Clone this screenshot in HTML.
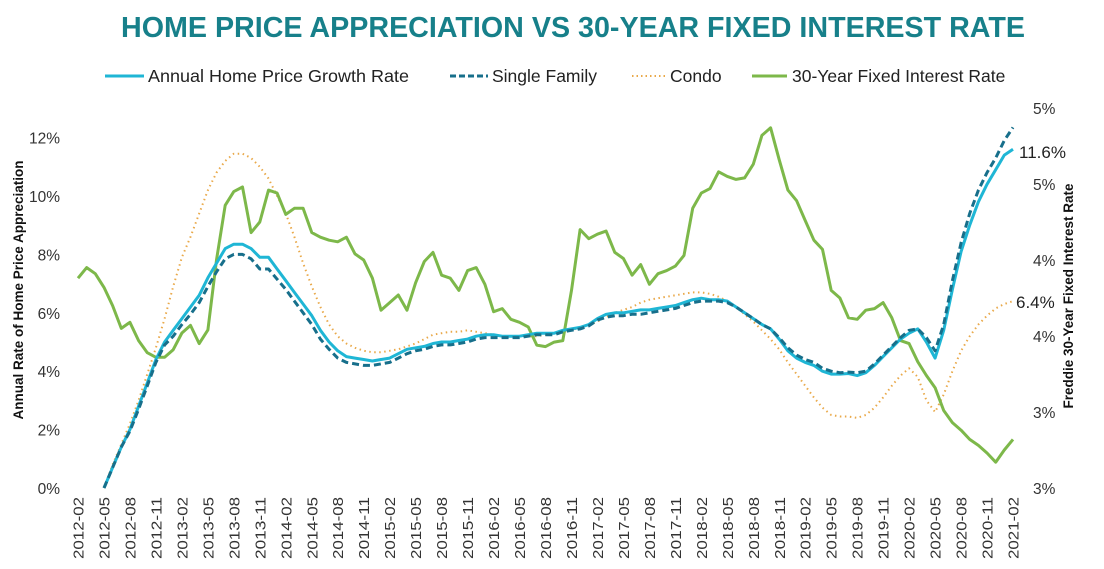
<!DOCTYPE html>
<html><head><meta charset="utf-8"><style>
html,body{margin:0;padding:0;background:#fff;width:1104px;height:569px;overflow:hidden}
svg{display:block;font-family:"Liberation Sans",sans-serif}
</style></head><body>
<svg id="chart" width="1104" height="569" viewBox="0 0 1104 569">
<text x="573" y="37" text-anchor="middle" font-size="29" font-weight="bold" fill="#17808a" textLength="904" lengthAdjust="spacingAndGlyphs">HOME PRICE APPRECIATION VS 30-YEAR FIXED INTEREST RATE</text>
<g font-size="17.5" fill="#222">
 <g><line x1="105" y1="76" x2="144" y2="76" stroke="#1fb6d5" stroke-width="3"/><text x="148" y="82" textLength="261" lengthAdjust="spacingAndGlyphs">Annual Home Price Growth Rate</text></g>
 <g><line x1="450" y1="76" x2="488" y2="76" stroke="#176f8b" stroke-width="3" stroke-dasharray="6,3"/><text x="492" y="82">Single Family</text></g>
 <g><line x1="632" y1="76" x2="665" y2="76" stroke="#e9a94a" stroke-width="2" stroke-dasharray="1.5,3"/><text x="670" y="82">Condo</text></g>
 <g><line x1="752" y1="76" x2="787" y2="76" stroke="#7db84a" stroke-width="3"/><text x="792" y="82">30-Year Fixed Interest Rate</text></g>
</g>
<text transform="translate(23,290) rotate(-90)" text-anchor="middle" font-size="13.5" font-weight="bold" fill="#111">Annual Rate of Home Price Appreciation</text>
<text transform="translate(1073,296) rotate(-90)" text-anchor="middle" font-size="13.5" font-weight="bold" fill="#111">Freddie 30-Year Fixed Interest Rate</text>
<g id="lt"></g><g id="rt"></g><g id="xt"></g><g id="series"></g>
<text x="1019" y="158" font-size="17" fill="#222">11.6%</text>
<text x="1016" y="308" font-size="17" fill="#222">6.4%</text>
</svg>
<script>
const months = [];
for (let i = 0; i < 109; i++) { const m = 1 + i; const y = 2012 + Math.floor(m / 12); const mm = (m % 12) + 1; months.push(y + '-' + String(mm).padStart(2, '0')); }
const leftTicks = [0, 2, 4, 6, 8, 10, 12];
const rightTicks = [2.5, 3.0, 3.5, 4.0, 4.5, 5.0];
const rightTickLabels = ['3%', '3%', '4%', '4%', '5%', '5%'];
const annualGrowth = [null,null,null,
0,0.7,1.4,2.0,2.8,3.6,4.4,5.0,5.4,5.8,6.2,6.6,7.2,7.7,8.2,8.35,8.35,8.2,7.9,7.9,7.5,7.1,6.7,6.3,5.9,5.4,5.0,4.7,4.5,4.45,4.4,4.35,4.4,4.45,4.6,4.75,4.8,4.85,4.95,5.0,5.0,5.05,5.1,5.2,5.25,5.25,5.2,5.2,5.2,5.25,5.3,5.3,5.3,5.4,5.45,5.5,5.6,5.8,5.95,6.0,6.0,6.05,6.1,6.1,6.15,6.2,6.25,6.35,6.45,6.5,6.45,6.45,6.4,6.2,6.0,5.8,5.6,5.45,5.1,4.7,4.45,4.3,4.2,4.0,3.9,3.9,3.92,3.85,3.95,4.2,4.5,4.8,5.1,5.3,5.45,5.0,4.45,5.4,6.8,8.1,9.0,9.8,10.4,10.9,11.4,11.6];
const singleFamily = [null,null,null,
0,0.7,1.4,1.95,2.7,3.5,4.3,4.9,5.2,5.6,5.95,6.35,6.9,7.4,7.85,8.0,8.0,7.85,7.5,7.5,7.15,6.8,6.4,6.0,5.6,5.1,4.75,4.45,4.3,4.25,4.2,4.2,4.25,4.3,4.45,4.6,4.7,4.75,4.85,4.9,4.9,4.95,5.0,5.1,5.15,5.15,5.15,5.15,5.15,5.2,5.25,5.25,5.25,5.35,5.4,5.45,5.55,5.75,5.85,5.9,5.9,5.95,5.95,6.0,6.05,6.1,6.15,6.25,6.35,6.4,6.4,6.4,6.35,6.2,6.0,5.8,5.6,5.45,5.15,4.8,4.55,4.4,4.3,4.1,4.0,3.95,3.97,3.95,4.0,4.25,4.55,4.85,5.15,5.4,5.45,5.15,4.7,5.6,7.1,8.4,9.4,10.2,10.8,11.3,11.9,12.35];
const condo = [null,null,null,
0,0.8,1.5,2.2,3.0,3.9,4.8,5.8,6.9,7.9,8.6,9.4,10.2,10.8,11.2,11.45,11.45,11.3,11.0,10.6,10.0,9.4,8.6,7.7,6.9,6.2,5.6,5.2,4.95,4.8,4.7,4.65,4.65,4.7,4.75,4.85,4.95,5.1,5.25,5.3,5.35,5.35,5.4,5.35,5.3,5.25,5.2,5.2,5.2,5.2,5.2,5.25,5.3,5.35,5.4,5.5,5.6,5.7,5.85,6.0,6.1,6.2,6.35,6.45,6.5,6.55,6.6,6.65,6.7,6.7,6.65,6.55,6.4,6.2,5.95,5.7,5.4,5.1,4.75,4.3,3.9,3.5,3.1,2.75,2.5,2.45,2.45,2.4,2.5,2.75,3.1,3.5,3.85,4.1,3.8,3.0,2.6,3.2,4.0,4.7,5.2,5.6,5.9,6.15,6.3,6.4];
const interestRate = [3.88,3.95,3.91,3.82,3.70,3.55,3.59,3.47,3.39,3.36,3.36,3.41,3.52,3.57,3.45,3.54,4.00,4.36,4.45,4.48,4.18,4.25,4.46,4.44,4.30,4.34,4.34,4.18,4.15,4.13,4.12,4.15,4.04,4.00,3.88,3.67,3.72,3.77,3.67,3.85,3.99,4.05,3.90,3.88,3.80,3.93,3.95,3.84,3.66,3.68,3.61,3.59,3.56,3.44,3.43,3.46,3.47,3.80,4.20,4.14,4.17,4.19,4.05,4.01,3.90,3.97,3.84,3.91,3.93,3.96,4.03,4.34,4.44,4.47,4.58,4.55,4.53,4.54,4.63,4.82,4.87,4.66,4.46,4.39,4.26,4.13,4.07,3.80,3.75,3.62,3.61,3.67,3.68,3.72,3.62,3.47,3.45,3.33,3.24,3.16,3.01,2.93,2.88,2.82,2.78,2.73,2.67,2.75,2.82];

const NS = 'http://www.w3.org/2000/svg';
const xS = i => 78 + i * (935 / 108);
const yL = v => 488 - v * 29.2;
const yR = v => 488 - (v - 2.5) * 152;
function mk(tag, attrs, parent, text) { const e = document.createElementNS(NS, tag); for (const k in attrs) e.setAttribute(k, attrs[k]); if (text !== undefined) e.textContent = text; parent.appendChild(e); return e; }
const lt = document.getElementById('lt');
leftTicks.forEach(v => {
  const t = mk('text', {x: 60, y: yL(v) + 6, 'text-anchor': 'end', 'font-size': 15.5, fill: '#333'}, lt, v + '%');
  
  
});
const rt = document.getElementById('rt');
rightTicks.forEach((v, k) => {
  const t = mk('text', {x: 1033, y: yR(v) + 6, 'font-size': 15.5, fill: '#333'}, rt, rightTickLabels[k]);
  
  
});
const xt = document.getElementById('xt');
months.forEach((m, i) => {
  if (i % 3 !== 0) return;
  const x = xS(i);
  const t = mk('text', {transform: `translate(${x + 5.5},497) rotate(-90)`, 'text-anchor': 'end', 'font-size': 15, fill: '#333', textLength: 62, lengthAdjust: 'spacingAndGlyphs'}, xt, m);
  
  
});
const sg = document.getElementById('series');
function line(data, yf, style, name) {
  let d = '';
  data.forEach((v, i) => { if (v === null) return; d += (d ? 'L' : 'M') + xS(i).toFixed(1) + ',' + yf(v).toFixed(1); });
  const p = mk('path', Object.assign({d: d, fill: 'none', 'stroke-linejoin': 'round'}, style), sg);
  
  
}
line(condo, yL, {stroke: '#e9a94a', 'stroke-width': 2, 'stroke-dasharray': '1.5,3.5'}, 'condo-line');
line(interestRate, yR, {stroke: '#7db84a', 'stroke-width': 3}, 'interest-rate-line');
line(annualGrowth, yL, {stroke: '#1fb6d5', 'stroke-width': 3}, 'annual-growth-line');
line(singleFamily, yL, {stroke: '#176f8b', 'stroke-width': 3, 'stroke-dasharray': '7,4'}, 'single-family-line');
</script>
</body></html>
